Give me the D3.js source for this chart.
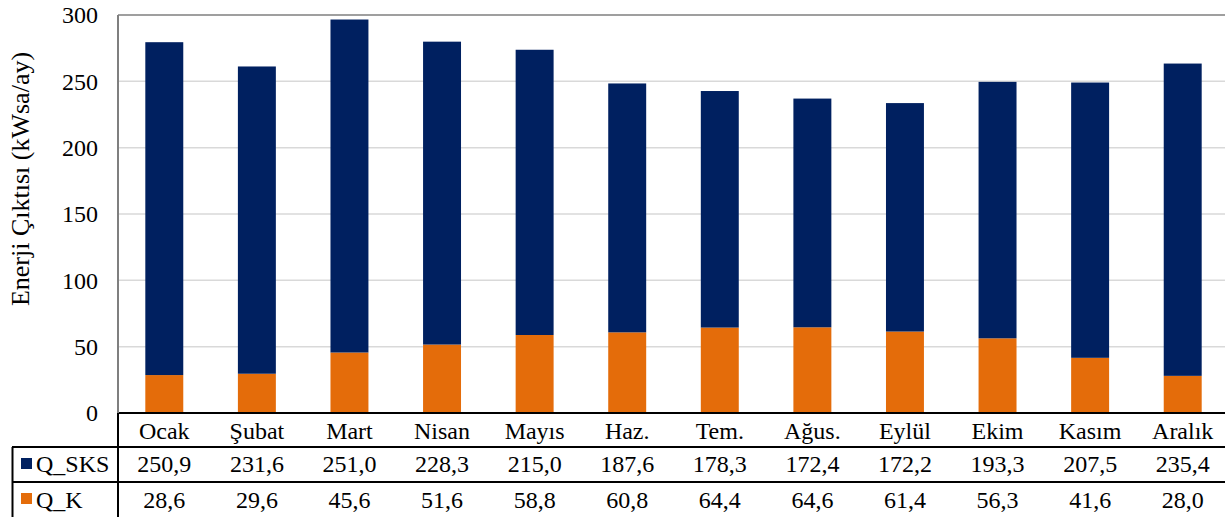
<!DOCTYPE html>
<html>
<head>
<meta charset="utf-8">
<script src="https://cdn.jsdelivr.net/npm/d3@7"></script>
<style>
  body { margin: 0; background: #fff; }
  text { font-family: "Liberation Serif", "Times New Roman", serif; fill: #000; }
</style>
</head>
<body>
<div id="chart"></div>
<script>
const months = ["Ocak", "Şubat", "Mart", "Nisan", "Mayıs", "Haz.", "Tem.", "Ağus.", "Eylül", "Ekim", "Kasım", "Aralık"];
const qSKS = [250.9, 231.6, 251.0, 228.3, 215.0, 187.6, 178.3, 172.4, 172.2, 193.3, 207.5, 235.4];
const qK = [28.6, 29.6, 45.6, 51.6, 58.8, 60.8, 64.4, 64.6, 61.4, 56.3, 41.6, 28.0];
const yTicks = [0, 50, 100, 150, 200, 250, 300];
const seriesNames = ["Q_SKS", "Q_K"];
const colors = { "Q_SKS": "#002060", "Q_K": "#E46C0A" };

(() => {
  const width = 1225;
  const height = 517;
  const plot = { left: 118, right: 1229, top: 15, bottom: 413 };
  const rows = { header: 447, r1: 482, bottom: 517 };
  const fmt = (v) => v.toFixed(1).replace(".", ",");
  const serif = "'Liberation Serif', 'Times New Roman', serif";

  const svg = d3
    .select("#chart")
    .append("svg")
    .attr("width", width)
    .attr("height", height);

  const xCol = d3.scaleBand().domain(months).range([plot.left, plot.right]);
  const barW = xCol.bandwidth() * 0.41;

  const y = d3.scaleLinear().domain([0, 300]).range([plot.bottom, plot.top]);

  // grid
  svg
    .append("g")
    .selectAll("line")
    .data(yTicks.filter((d) => d > 0 && d < 300))
    .join("line")
    .attr("x1", plot.left)
    .attr("x2", plot.right)
    .attr("y1", (d) => y(d))
    .attr("y2", (d) => y(d))
    .attr("stroke", "#d9d9d9")
    .attr("stroke-width", 1.5);

  // plot border
  svg
    .append("line")
    .attr("x1", plot.left)
    .attr("x2", plot.right)
    .attr("y1", plot.top)
    .attr("y2", plot.top)
    .attr("stroke", "#7f7f7f")
    .attr("stroke-width", 1.5);

  // y axis labels
  const yAxis = d3.axisLeft(y).tickValues(yTicks).tickSize(0).tickPadding(20);
  const ya = svg
    .append("g")
    .attr("transform", `translate(${plot.left},0)`)
    .call(yAxis);
  ya.select(".domain").remove();
  ya.attr("font-family", serif).attr("font-size", 24);
  ya.selectAll("text").attr("dy", "0.33em");

  svg
    .append("text")
    .attr("transform", `translate(29, 179) rotate(-90)`)
    .attr("text-anchor", "middle")
    .attr("font-size", "26px")
    .text("Enerji Çıktısı (kWsa/ay)");

  // stacked bars
  const data = months.map((m, i) => ({ month: m, Q_K: qK[i], Q_SKS: qSKS[i] }));
  const stack = d3.stack().keys(["Q_K", "Q_SKS"])(data);

  svg
    .append("g")
    .selectAll("g")
    .data(stack)
    .join("g")
    .attr("fill", (s) => colors[s.key])
    .selectAll("rect")
    .data((s) => s)
    .join("rect")
    .attr("x", (d) => xCol(d.data.month) + (xCol.bandwidth() - barW) / 2)
    .attr("width", barW)
    .attr("y", (d) => y(d[1]))
    .attr("height", (d) => y(d[0]) - y(d[1]));

  // data table
  const table = svg.append("g");
  const lineStyle = (sel) => sel.attr("stroke", "#000").attr("stroke-width", 2);

  table.append("line").attr("x1", plot.left).attr("x2", plot.right)
    .attr("y1", plot.bottom).attr("y2", plot.bottom).call(lineStyle);
  table.append("line").attr("x1", 12).attr("x2", plot.right)
    .attr("y1", rows.header).attr("y2", rows.header).call(lineStyle);
  table.append("line").attr("x1", 12).attr("x2", plot.right)
    .attr("y1", rows.r1).attr("y2", rows.r1).call(lineStyle);
  table.append("line").attr("x1", 12.5).attr("x2", 12.5)
    .attr("y1", rows.header).attr("y2", rows.bottom).call(lineStyle);
  table.append("line").attr("x1", plot.left).attr("x2", plot.left)
    .attr("y1", plot.bottom).attr("y2", rows.bottom).call(lineStyle);
  svg.append("line").attr("x1", plot.left).attr("x2", plot.left)
    .attr("y1", plot.top).attr("y2", plot.bottom)
    .attr("stroke", "#7f7f7f").attr("stroke-width", 2);

  // header row
  table
    .append("g")
    .selectAll("text")
    .data(months)
    .join("text")
    .attr("x", (d) => xCol(d) + xCol.bandwidth() / 2)
    .attr("y", 439)
    .attr("text-anchor", "middle")
    .attr("font-size", "24px")
    .text((d) => d);

  const rowData = [
    { name: seriesNames[0], values: qSKS, base: 472, sq: 458 },
    { name: seriesNames[1], values: qK, base: 508, sq: 493 },
  ];

  rowData.forEach((r) => {
    table
      .append("rect")
      .attr("x", 21)
      .attr("y", r.sq)
      .attr("width", 11)
      .attr("height", 11)
      .attr("fill", colors[r.name]);
    table
      .append("text")
      .attr("x", 36)
      .attr("y", r.base)
      .attr("font-size", "24px")
      .text(r.name);
    table
      .append("g")
      .selectAll("text")
      .data(r.values)
      .join("text")
      .attr("x", (d, i) => xCol(months[i]) + xCol.bandwidth() / 2)
      .attr("y", r.base)
      .attr("text-anchor", "middle")
      .attr("font-size", "24px")
      .text((d) => fmt(d));
  });
})();
</script>
</body>
</html>
